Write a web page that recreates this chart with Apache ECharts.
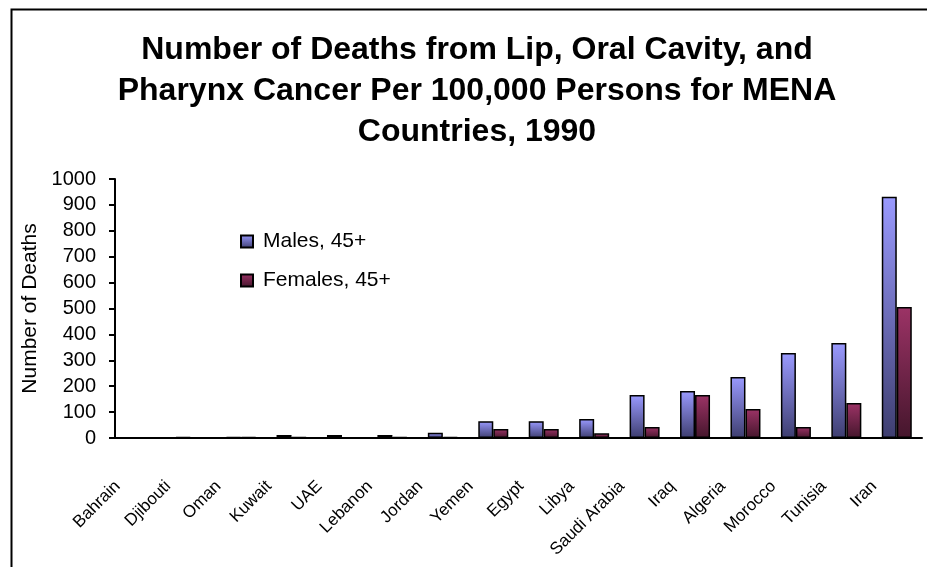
<!DOCTYPE html>
<html>
<head>
<meta charset="utf-8">
<script src="https://cdn.jsdelivr.net/npm/echarts@6/dist/echarts.min.js"></script>
<style>html,body{margin:0;padding:0;background:#fff;}#c{width:927px;height:567px;}</style>
</head>
<body>
<div id="c"></div>
<script>
const countries = ['Bahrain','Djibouti','Oman','Kuwait','UAE','Lebanon','Jordan','Yemen','Egypt','Libya','Saudi Arabia','Iraq','Algeria','Morocco','Tunisia','Iran'];
const males = [0, 3, 3, 12, 12, 12, 20, 65, 65, 73, 166, 181, 236, 328, 367, 931];
const females = [0, 1, 3, 3, 1, 4, 4, 35, 35, 18, 42, 166, 112, 42, 135, 506];
const yTicks = [0, 100, 200, 300, 400, 500, 600, 700, 800, 900, 1000];
const seriesNames = ['Males, 45+', 'Females, 45+'];

const chart = echarts.init(document.getElementById('c'), null, {renderer: 'canvas'});
const font = '"Liberation Sans", Arial, sans-serif';
const maleGrad = new echarts.graphic.LinearGradient(0, 0, 0, 1, [
  {offset: 0, color: '#9a9aff'}, {offset: 1, color: '#3e3e70'}]);
const femaleGrad = new echarts.graphic.LinearGradient(0, 0, 0, 1, [
  {offset: 0, color: '#9c3366'}, {offset: 1, color: '#45162c'}]);

chart.setOption({
  animation: false,
  backgroundColor: '#fff',
  graphic: [{
    type: 'rect', left: 9, top: 7, shape: {width: 1000, height: 1000},
    style: {fill: 'none', stroke: '#000', lineWidth: 2}, silent: true
  }],
  title: {
    text: 'Number of Deaths from Lip, Oral Cavity, and\nPharynx Cancer Per 100,000 Persons for MENA\nCountries, 1990',
    left: 472, top: 25, textAlign: 'center',
    textStyle: {fontFamily: font, fontWeight: 'bold', fontSize: 32, lineHeight: 41, color: '#000'}
  },
  legend: {
    orient: 'vertical', left: 235, top: 226, itemGap: 18,
    itemWidth: 12, itemHeight: 12, icon: 'rect',
    textStyle: {fontFamily: font, fontSize: 21, lineHeight: 21, color: '#000', padding: [0, 0, 0, 5]},
    data: seriesNames
  },
  grid: {left: 115, right: 5, top: 179, bottom: 129, containLabel: false},
  xAxis: {
    type: 'category', data: countries,
    axisLine: {lineStyle: {color: '#000', width: 2}},
    axisTick: {lineStyle: {color: '#000', width: 2}, length: 6, alignWithLabel: false},
    axisLabel: {rotate: 45, interval: 0, fontFamily: font, fontSize: 17, color: '#000',
      margin: 23, padding: [0, 32, 0, 0]}
  },
  yAxis: {
    type: 'value', min: 0, max: 1000, interval: 100,
    name: 'Number of Deaths', nameLocation: 'middle', nameGap: 70,
    nameTextStyle: {fontFamily: font, fontSize: 21, color: '#000'},
    axisLine: {show: true, lineStyle: {color: '#000', width: 2}},
    axisTick: {show: true, inside: false, length: 6, lineStyle: {color: '#000', width: 2}},
    axisLabel: {fontFamily: font, fontSize: 20, color: '#000', margin: 19,
      formatter: v => yTicks.includes(v) ? String(v) : ''},
    splitLine: {show: false}
  },
  series: [
    {name: seriesNames[0], type: 'bar', data: males, barWidth: 15, barGap: '0%',
     itemStyle: {color: maleGrad, borderColor: '#000', borderWidth: 1.5}},
    {name: seriesNames[1], type: 'bar', data: females, barWidth: 15, barGap: '0%',
     itemStyle: {color: femaleGrad, borderColor: '#000', borderWidth: 1.5}}
  ]
});
</script>
</body>
</html>
